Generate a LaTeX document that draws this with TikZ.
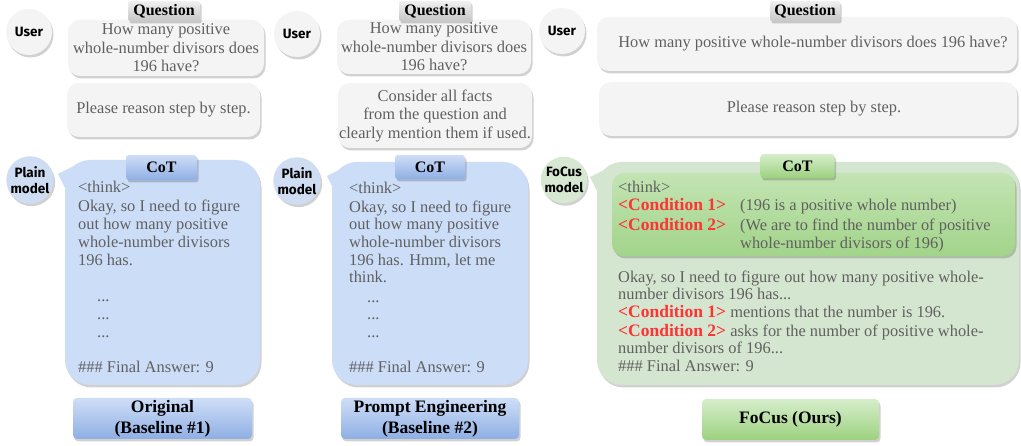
\documentclass[tikz,border=0pt]{standalone}
\usepackage{fontspec}
\setmainfont{Liberation Serif}
\newfontfamily\labfont{Fira Sans}
\usetikzlibrary{shadows}
\definecolor{txt}{HTML}{606060}
\definecolor{qgrey}{HTML}{F4F4F4}
\definecolor{blubub}{HTML}{CCDDF8}
\definecolor{bluecirc}{HTML}{CFDDF2}
\definecolor{grnbub}{HTML}{D5E6D0}
\definecolor{grncirc}{HTML}{D6E8D2}
\definecolor{cred}{HTML}{FF3333}
\definecolor{blueA}{HTML}{CFDEF7}
\definecolor{blueB}{HTML}{8EAFE4}
\definecolor{greenA}{HTML}{D6EECB}
\definecolor{greenB}{HTML}{9DD17F}
\definecolor{innerA}{HTML}{C3E4B3}
\definecolor{innerB}{HTML}{A2D48A}
\tikzset{
  sh/.style={general shadow={shadow xshift=1.5pt, shadow yshift=-2.5pt, fill=black, opacity=0.18}},
  qbox/.style={fill=qgrey, rounded corners=12pt, sh, inner sep=0pt, align=center, text=txt},
  labfnt/.style={font=\bfseries\fontsize{16}{18}\selectfont},
  qlab/.style={top color=white!94!black, bottom color=black!22, rounded corners=2pt, sh,
    labfnt, minimum width=72, minimum height=20, inner sep=0pt},
  bluelab/.style={top color=blueA, bottom color=blueB, rounded corners=3pt, sh, inner sep=0pt, labfnt},
  grnlab/.style={top color=greenA, bottom color=greenB, rounded corners=3pt, sh, inner sep=0pt, labfnt},
  who/.style={circle, sh, inner sep=0pt, minimum size=46, align=center,
    font=\labfont\bfseries\fontsize{13.5}{16}\selectfont},
  bub/.style={rounded corners=25pt, sh, inner sep=0pt},
  tx/.style={anchor=base west, text=txt, inner sep=0pt},
  bottomlab/.style={rounded corners=4pt, sh, inner sep=0pt, align=center,
    font=\bfseries\fontsize{17.5}{21}\selectfont},
  cond/.style={text=cred, font=\bfseries\fontsize{17.5}{18}\selectfont},
}
\newcommand{\cnd}[1]{{\color{cred}\bfseries\fontsize{17.5}{18}\selectfont #1}}
\begin{document}
\begin{tikzpicture}[x=1pt,y=-1pt,font=\fontsize{16.4}{18.5}\selectfont]
\useasboundingbox[fill=white] (0,0) rectangle (1021,446);

% ---------------- column 1 ----------------
\node[who, fill=qgrey] (u1) at (29,32) {User};
\node[qbox, minimum width=196, minimum height=56] (q1) at (166,48)
  {How many positive\\whole-number divisors does\\196 have?};
\node[qlab] (ql1) at (164,11) {Question};
\node[qbox, minimum width=193, minimum height=54] (p1) at (163.5,110) {Please reason step by step.};

\node[who, fill=bluecirc] (m1) at (30,180) {Plain\\model};
\node[bub, fill=blubub, minimum width=195, minimum height=225] (b1) at (162.5,272.5) {};
\fill[blubub] (58,174) -- (74,166) -- (66,190) -- cycle;
\node[bluelab, minimum width=71, minimum height=25] (c1) at (161.5,167.5) {CoT};
\node[tx] (a1) at (78,193) {<think>};
\node[tx] (a2) at (78,212) {Okay, so I need to figure};
\node[tx] (a3) at (78,230) {out how many positive};
\node[tx] (a4) at (78,248) {whole-number divisors};
\node[tx] (a5) at (78,266) {196 has.};
\node[tx] (a6) at (97,302) {...};
\node[tx] (a7) at (97,320) {...};
\node[tx] (a8) at (97,338) {...};
\node[tx] (a9) at (78,373) {\#\#\# Final Answer: 9};
\node[bottomlab, top color=blueA, bottom color=blueB, minimum width=179, minimum height=41] (o1) at (162.5,418.5) {Original\\(Baseline \#1)};

% ---------------- column 2 ----------------
\node[who, fill=qgrey] (u2) at (297,34) {User};
\node[qbox, minimum width=194, minimum height=54] (q2) at (434,47)
  {How many positive\\whole-number divisors does\\196 have?};
\node[qlab] (ql2) at (435,11) {Question};
\node[qbox, minimum width=194, minimum height=65] (p2) at (435,115.5)
  {Consider all facts\\from the question and\\clearly mention them if used.};

\node[who, fill=bluecirc] (m2) at (297,181) {Plain\\model};
\node[bub, fill=blubub, minimum width=196, minimum height=223] (b2) at (430,273.5) {};
\fill[blubub] (327,176) -- (343,168) -- (335,192) -- cycle;
\node[bluelab, minimum width=70, minimum height=24] (c2) at (430,167) {CoT};
\node[tx] (e1) at (349,194) {<think>};
\node[tx] (e2) at (349,213) {Okay, so I need to figure};
\node[tx] (e3) at (349,230) {out how many positive};
\node[tx] (e4) at (349,248) {whole-number divisors};
\node[tx] (e5) at (349,266) {196 has. Hmm, let me};
\node[tx] (e6) at (349,283) {think.};
\node[tx] (e7) at (367,303) {...};
\node[tx] (e8) at (367,320) {...};
\node[tx] (e9) at (367,338) {...};
\node[tx] (e10) at (349,373) {\#\#\# Final Answer: 9};
\node[bottomlab, top color=blueA, bottom color=blueB, minimum width=178, minimum height=41] (o2) at (430,418.5) {Prompt Engineering\\(Baseline \#2)};

% ---------------- column 3 ----------------
\node[who, fill=qgrey] (u3) at (562,31) {User};
\node[qbox, minimum width=420, minimum height=54] (q3) at (807,44)
  {\hspace*{12pt}How many positive whole-number divisors does 196 have?};
\node[qlab, minimum width=70] (ql3) at (805,11) {Question};
\node[qbox, minimum width=418, minimum height=54] (p3) at (808,109)
  {\hspace*{12pt}Please reason step by step.};

\node[who, fill=grncirc] (m3) at (564,180) {FoCus\\model};
\node[bub, fill=grnbub, minimum width=422, minimum height=223] (b3) at (808,273.5) {};
\fill[grnbub] (590,177) -- (606,169) -- (598,193) -- cycle;
\node[rounded corners=12pt, sh, top color=innerA, bottom color=innerB, minimum width=403, minimum height=83, inner sep=0pt] (in3) at (813.5,214.5) {};
\node[grnlab, minimum width=74, minimum height=24] (c3) at (797.5,166) {CoT};
\node[tx] (f1) at (618,193) {<think>};
\node[tx, cond] (f2) at (618,211) {<Condition 1>};
\node[tx] (f3) at (740,211) {(196 is a positive whole number)};
\node[tx, cond] (f4) at (618,231) {<Condition 2>};
\node[tx] (f5) at (740,231) {(We are to find the number of positive};
\node[tx] (f6) at (740,249) {whole-number divisors of 196)};
\node[tx] (g1) at (618,283) {Okay, so I need to figure out how many positive whole-};
\node[tx] (g2) at (618,300) {number divisors 196 has...};
\node[tx] (g3) at (618,318) {\cnd{<Condition 1>} mentions that the number is 196.};
\node[tx] (g4) at (618,337) {\cnd{<Condition 2>} asks for the number of positive whole-};
\node[tx] (g5) at (618,354) {number divisors of 196...};
\node[tx] (g6) at (618,372) {\#\#\# Final Answer: 9};
\node[bottomlab, top color=greenA, bottom color=greenB, minimum width=177, minimum height=41] (o3) at (790.5,419.5) {FoCus (Ours)};
\end{tikzpicture}
\end{document}
